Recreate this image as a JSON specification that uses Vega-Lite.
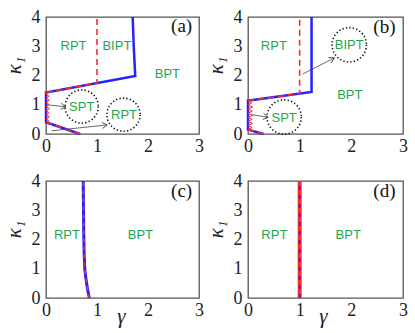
{
  "$schema": "https://vega.github.io/schema/vega-lite/v6.json",
  "padding": {"left": 2, "top": 7, "right": 2, "bottom": 2},
  "background": "white",
  "config": {
    "font": "Liberation Serif",
    "view": {"stroke": "#555", "strokeWidth": 1.3},
    "axis": {"grid": false, "domain": false, "ticks": false, "labelFont": "Liberation Serif", "labelFontSize": 18, "labelColor": "#222", "labelFlush": false, "titleFont": "Liberation Serif", "titleFontStyle": "italic", "titleFontWeight": "normal", "titleFontSize": 21, "titleColor": "#222"},
    "line": {"strokeCap": "butt"}
  },
  "datasets": {
    "lines": [
      {"p": "a", "s": "blue", "g": 0.67, "k": 0},
      {"p": "a", "s": "blue", "g": 0, "k": 0.4},
      {"p": "a", "s": "blue", "g": 0, "k": 1.42},
      {"p": "a", "s": "blue", "g": 1.75, "k": 1.98},
      {"p": "a", "s": "blue", "g": 1.72, "k": 3},
      {"p": "a", "s": "blue", "g": 1.7, "k": 4},
      {"p": "a", "s": "red1", "g": 0.67, "k": 0},
      {"p": "a", "s": "red1", "g": 0, "k": 0.4},
      {"p": "a", "s": "red2", "g": 0, "k": 1.42},
      {"p": "a", "s": "red2", "g": 1.0, "k": 1.74},
      {"p": "a", "s": "red2", "g": 1.0, "k": 4},
      {"p": "a", "s": "zig", "g": 0, "k": 0.4},
      {"p": "a", "s": "zig", "g": 0.06, "k": 0.45},
      {"p": "a", "s": "zig", "g": 0, "k": 0.52},
      {"p": "a", "s": "zig", "g": 0.07, "k": 0.59},
      {"p": "a", "s": "zig", "g": 0, "k": 0.66},
      {"p": "a", "s": "zig", "g": 0.06, "k": 0.73},
      {"p": "a", "s": "zig", "g": 0, "k": 0.8},
      {"p": "a", "s": "zig", "g": 0.07, "k": 0.87},
      {"p": "a", "s": "zig", "g": 0, "k": 0.94},
      {"p": "a", "s": "zig", "g": 0.06, "k": 1.01},
      {"p": "a", "s": "zig", "g": 0, "k": 1.08},
      {"p": "a", "s": "zig", "g": 0.07, "k": 1.15},
      {"p": "a", "s": "zig", "g": 0, "k": 1.22},
      {"p": "a", "s": "zig", "g": 0.06, "k": 1.29},
      {"p": "a", "s": "zig", "g": 0, "k": 1.36},
      {"p": "a", "s": "zig", "g": 0.03, "k": 1.4},
      {"p": "a", "s": "zig", "g": 0, "k": 1.42},
      {"p": "b", "s": "blue", "g": 0.3, "k": 0},
      {"p": "b", "s": "blue", "g": 0, "k": 0.15},
      {"p": "b", "s": "blue", "g": 0, "k": 1.14},
      {"p": "b", "s": "blue", "g": 1.23, "k": 1.44},
      {"p": "b", "s": "blue", "g": 1.23, "k": 4},
      {"p": "b", "s": "red1", "g": 0.3, "k": 0},
      {"p": "b", "s": "red1", "g": 0, "k": 0.15},
      {"p": "b", "s": "red2", "g": 0, "k": 1.14},
      {"p": "b", "s": "red2", "g": 1.0, "k": 1.385},
      {"p": "b", "s": "red2", "g": 1.0, "k": 4},
      {"p": "b", "s": "zig", "g": 0, "k": 0.15},
      {"p": "b", "s": "zig", "g": 0.08, "k": 0.22},
      {"p": "b", "s": "zig", "g": 0, "k": 0.29},
      {"p": "b", "s": "zig", "g": 0.09, "k": 0.36},
      {"p": "b", "s": "zig", "g": 0, "k": 0.43},
      {"p": "b", "s": "zig", "g": 0.08, "k": 0.5},
      {"p": "b", "s": "zig", "g": 0, "k": 0.57},
      {"p": "b", "s": "zig", "g": 0.09, "k": 0.64},
      {"p": "b", "s": "zig", "g": 0, "k": 0.71},
      {"p": "b", "s": "zig", "g": 0.08, "k": 0.78},
      {"p": "b", "s": "zig", "g": 0, "k": 0.85},
      {"p": "b", "s": "zig", "g": 0.09, "k": 0.92},
      {"p": "b", "s": "zig", "g": 0, "k": 0.99},
      {"p": "b", "s": "zig", "g": 0.07, "k": 1.06},
      {"p": "b", "s": "zig", "g": 0, "k": 1.14},
      {"p": "c", "s": "blue", "g": 0.85, "k": 0},
      {"p": "c", "s": "blue", "g": 0.815, "k": 0.3},
      {"p": "c", "s": "blue", "g": 0.785, "k": 0.63},
      {"p": "c", "s": "blue", "g": 0.76, "k": 1.0},
      {"p": "c", "s": "blue", "g": 0.748, "k": 1.5},
      {"p": "c", "s": "blue", "g": 0.74, "k": 2.2},
      {"p": "c", "s": "blue", "g": 0.735, "k": 3},
      {"p": "c", "s": "blue", "g": 0.73, "k": 4},
      {"p": "c", "s": "red1", "g": 0.85, "k": 0},
      {"p": "c", "s": "red1", "g": 0.815, "k": 0.3},
      {"p": "c", "s": "red1", "g": 0.785, "k": 0.63},
      {"p": "c", "s": "red1", "g": 0.76, "k": 1.0},
      {"p": "c", "s": "red1", "g": 0.748, "k": 1.5},
      {"p": "c", "s": "red1", "g": 0.74, "k": 2.2},
      {"p": "c", "s": "red1", "g": 0.735, "k": 3},
      {"p": "c", "s": "red1", "g": 0.73, "k": 4},
      {"p": "d", "s": "redsolid", "g": 1.0, "k": 0},
      {"p": "d", "s": "redsolid", "g": 1.0, "k": 4},
      {"p": "d", "s": "bluedash", "g": 1.0, "k": 0},
      {"p": "d", "s": "bluedash", "g": 1.0, "k": 4}
    ],
    "txt": [
      {"p": "a", "kind": "r", "t": "RPT", "g": 0.54, "k": 3.0},
      {"p": "a", "kind": "r", "t": "BIPT", "g": 1.39, "k": 3.0},
      {"p": "a", "kind": "r", "t": "BPT", "g": 2.38, "k": 2.06},
      {"p": "a", "kind": "r", "t": "SPT", "g": 0.7, "k": 0.92},
      {"p": "a", "kind": "r", "t": "RPT", "g": 1.53, "k": 0.64},
      {"p": "a", "kind": "p", "t": "(a)", "g": 2.66, "k": 3.68},
      {"p": "b", "kind": "r", "t": "RPT", "g": 0.5, "k": 3.0},
      {"p": "b", "kind": "r", "t": "BIPT", "g": 1.96, "k": 3.05},
      {"p": "b", "kind": "r", "t": "BPT", "g": 1.97, "k": 1.34},
      {"p": "b", "kind": "r", "t": "SPT", "g": 0.7, "k": 0.56},
      {"p": "b", "kind": "p", "t": "(b)", "g": 2.64, "k": 3.65},
      {"p": "c", "kind": "r", "t": "RPT", "g": 0.41, "k": 2.14},
      {"p": "c", "kind": "r", "t": "BPT", "g": 1.85, "k": 2.14},
      {"p": "c", "kind": "p", "t": "(c)", "g": 2.66, "k": 3.66},
      {"p": "d", "kind": "r", "t": "RPT", "g": 0.51, "k": 2.17},
      {"p": "d", "kind": "r", "t": "BPT", "g": 1.94, "k": 2.17},
      {"p": "d", "kind": "p", "t": "(d)", "g": 2.64, "k": 3.66}
    ],
    "circ": [
      {"p": "a", "g": 0.7, "k": 0.94},
      {"p": "a", "g": 1.52, "k": 0.66},
      {"p": "b", "g": 0.7, "k": 0.58},
      {"p": "b", "g": 1.96, "k": 3.05}
    ],
    "arr": [
      {"p": "a", "id": "a1", "end": "tail", "g": 0.01, "k": 1.0},
      {"p": "a", "id": "a1", "end": "head", "g": 0.39, "k": 0.93},
      {"p": "a", "id": "a2", "end": "tail", "g": 0.11, "k": 0.11},
      {"p": "a", "id": "a2", "end": "head", "g": 1.2, "k": 0.31},
      {"p": "b", "id": "b1", "end": "tail", "g": 1.06, "k": 2.05},
      {"p": "b", "id": "b1", "end": "head", "g": 1.67, "k": 2.6},
      {"p": "b", "id": "b2", "end": "tail", "g": 0.08, "k": 0.66},
      {"p": "b", "id": "b2", "end": "head", "g": 0.39, "k": 0.57}
    ]
  },
  "columns": 2,
  "spacing": {"row": 47, "column": 49},
  "bounds": "flush",
  "concat": [
    {
      "width": 153, "height": 117,
      "encoding": {
        "x": {"field": "g", "type": "quantitative", "scale": {"domain": [0, 3], "nice": false}, "axis": {"values": [0, 1, 2, 3], "title": null, "labelPadding": 3, "labelFont": "Liberation Serif"}},
        "y": {"field": "k", "type": "quantitative", "scale": {"domain": [0, 4], "nice": false}, "axis": {"values": [0, 1, 2, 3, 4], "title": "κ₁", "labelPadding": 6, "titlePadding": 7, "titleY": 48, "labelFont": "Liberation Serif"}}
      },
      "layer": [
        {"data": {"name": "lines"}, "transform": [{"filter": "datum.p==='a' && datum.s==='blue'"}], "mark": {"type": "line", "color": "#2323ff", "strokeWidth": 2.5}, "encoding": {"order": {"value": null}}},
        {"data": {"name": "lines"}, "transform": [{"filter": "datum.p==='a' && datum.s==='zig'"}], "mark": {"type": "line", "color": "#ff2a2a", "strokeWidth": 1}, "encoding": {"order": {"value": null}}},
        {"data": {"name": "lines"}, "transform": [{"filter": "datum.p==='a' && (datum.s==='red1' || datum.s==='red2')"}], "mark": {"type": "line", "color": "#ff2a2a", "strokeWidth": 1.6, "strokeDash": [6, 4]}, "encoding": {"detail": {"field": "s"}, "order": {"value": null}}},
        {"data": {"name": "circ"}, "transform": [{"filter": "datum.p==='a'"}], "mark": {"type": "point", "shape": "circle", "filled": false, "size": 1100, "color": "#111", "strokeWidth": 1.6, "strokeDash": [1.3, 2.2], "opacity": 1}},
        {"data": {"name": "arr"}, "transform": [{"filter": "datum.p==='a'"}], "mark": {"type": "line", "color": "#444", "strokeWidth": 0.8}, "encoding": {"detail": {"field": "id"}, "order": {"value": null}}},
        {"data": {"name": "arr"}, "transform": [{"filter": "datum.id==='a1' && datum.end==='head'"}], "mark": {"type": "point", "shape": "M-1,-0.6L0,0L-1,0.6", "filled": false, "size": 100, "angle": 6, "color": "#444", "strokeWidth": 0.9, "opacity": 1}},
        {"data": {"name": "arr"}, "transform": [{"filter": "datum.id==='a2' && datum.end==='head'"}], "mark": {"type": "point", "shape": "M-1,-0.6L0,0L-1,0.6", "filled": false, "size": 100, "angle": -6, "color": "#444", "strokeWidth": 0.9, "opacity": 1}},
        {"data": {"name": "txt"}, "transform": [{"filter": "datum.p==='a' && datum.kind==='r'"}], "mark": {"type": "text", "font": "Liberation Sans", "fontSize": 13, "color": "#1fa64f"}, "encoding": {"text": {"field": "t"}}},
        {"data": {"name": "txt"}, "transform": [{"filter": "datum.p==='a' && datum.kind==='p'"}], "mark": {"type": "text", "font": "Liberation Serif", "fontSize": 19, "color": "#111"}, "encoding": {"text": {"field": "t"}}}
      ]
    },
    {
      "width": 155, "height": 117,
      "encoding": {
        "x": {"field": "g", "type": "quantitative", "scale": {"domain": [0, 3], "nice": false}, "axis": {"values": [0, 1, 2, 3], "title": null, "labelPadding": 3, "labelFont": "Liberation Serif"}},
        "y": {"field": "k", "type": "quantitative", "scale": {"domain": [0, 4], "nice": false}, "axis": {"values": [0, 1, 2, 3, 4], "title": "κ₁", "labelPadding": 6, "titlePadding": 7, "titleY": 48, "labelFont": "Liberation Serif"}}
      },
      "layer": [
        {"data": {"name": "lines"}, "transform": [{"filter": "datum.p==='b' && datum.s==='blue'"}], "mark": {"type": "line", "color": "#2323ff", "strokeWidth": 2.5}, "encoding": {"order": {"value": null}}},
        {"data": {"name": "lines"}, "transform": [{"filter": "datum.p==='b' && datum.s==='zig'"}], "mark": {"type": "line", "color": "#ff2a2a", "strokeWidth": 1}, "encoding": {"order": {"value": null}}},
        {"data": {"name": "lines"}, "transform": [{"filter": "datum.p==='b' && (datum.s==='red1' || datum.s==='red2')"}], "mark": {"type": "line", "color": "#ff2a2a", "strokeWidth": 1.6, "strokeDash": [6, 4]}, "encoding": {"detail": {"field": "s"}, "order": {"value": null}}},
        {"data": {"name": "circ"}, "transform": [{"filter": "datum.p==='b'"}], "mark": {"type": "point", "shape": "circle", "filled": false, "size": 1180, "color": "#111", "strokeWidth": 1.6, "strokeDash": [1.3, 2.2], "opacity": 1}},
        {"data": {"name": "arr"}, "transform": [{"filter": "datum.p==='b'"}], "mark": {"type": "line", "color": "#444", "strokeWidth": 0.8}, "encoding": {"detail": {"field": "id"}, "order": {"value": null}}},
        {"data": {"name": "arr"}, "transform": [{"filter": "datum.id==='b1' && datum.end==='head'"}], "mark": {"type": "point", "shape": "M-1,-0.6L0,0L-1,0.6", "filled": false, "size": 100, "angle": -27, "color": "#444", "strokeWidth": 0.9, "opacity": 1}},
        {"data": {"name": "arr"}, "transform": [{"filter": "datum.id==='b2' && datum.end==='head'"}], "mark": {"type": "point", "shape": "M-1,-0.6L0,0L-1,0.6", "filled": false, "size": 100, "angle": 9.5, "color": "#444", "strokeWidth": 0.9, "opacity": 1}},
        {"data": {"name": "txt"}, "transform": [{"filter": "datum.p==='b' && datum.kind==='r'"}], "mark": {"type": "text", "font": "Liberation Sans", "fontSize": 13, "color": "#1fa64f"}, "encoding": {"text": {"field": "t"}}},
        {"data": {"name": "txt"}, "transform": [{"filter": "datum.p==='b' && datum.kind==='p'"}], "mark": {"type": "text", "font": "Liberation Serif", "fontSize": 19, "color": "#111"}, "encoding": {"text": {"field": "t"}}}
      ]
    },
    {
      "width": 153, "height": 117,
      "encoding": {
        "x": {"field": "g", "type": "quantitative", "scale": {"domain": [0, 3], "nice": false}, "axis": {"values": [0, 1, 2, 3], "title": "γ", "labelPadding": 3, "labelFont": "Liberation Serif", "titleX": 75, "titleY": 24, "titleBaseline": "alphabetic", "titleAlign": "center"}},
        "y": {"field": "k", "type": "quantitative", "scale": {"domain": [0, 4], "nice": false}, "axis": {"values": [0, 1, 2, 3, 4], "title": "κ₁", "labelPadding": 6, "titlePadding": 7, "titleY": 48, "labelFont": "Liberation Serif"}}
      },
      "layer": [
        {"data": {"name": "lines"}, "transform": [{"filter": "datum.p==='c' && datum.s==='blue'"}], "mark": {"type": "line", "color": "#2323ff", "strokeWidth": 3}, "encoding": {"order": {"value": null}}},
        {"data": {"name": "lines"}, "transform": [{"filter": "datum.p==='c' && datum.s==='red1'"}], "mark": {"type": "line", "color": "#ff2a2a", "strokeWidth": 1.6, "strokeDash": [4, 4]}, "encoding": {"order": {"value": null}}},
        {"data": {"name": "txt"}, "transform": [{"filter": "datum.p==='c' && datum.kind==='r'"}], "mark": {"type": "text", "font": "Liberation Sans", "fontSize": 13, "color": "#1fa64f"}, "encoding": {"text": {"field": "t"}}},
        {"data": {"name": "txt"}, "transform": [{"filter": "datum.p==='c' && datum.kind==='p'"}], "mark": {"type": "text", "font": "Liberation Serif", "fontSize": 19, "color": "#111"}, "encoding": {"text": {"field": "t"}}}
      ]
    },
    {
      "width": 155, "height": 117,
      "encoding": {
        "x": {"field": "g", "type": "quantitative", "scale": {"domain": [0, 3], "nice": false}, "axis": {"values": [0, 1, 2, 3], "title": "γ", "labelPadding": 3, "labelFont": "Liberation Serif", "titleX": 75, "titleY": 24, "titleBaseline": "alphabetic", "titleAlign": "center"}},
        "y": {"field": "k", "type": "quantitative", "scale": {"domain": [0, 4], "nice": false}, "axis": {"values": [0, 1, 2, 3, 4], "title": "κ₁", "labelPadding": 6, "titlePadding": 7, "titleY": 48, "labelFont": "Liberation Serif"}}
      },
      "layer": [
        {"data": {"name": "lines"}, "transform": [{"filter": "datum.p==='d' && datum.s==='redsolid'"}], "mark": {"type": "line", "color": "#ff2a2a", "strokeWidth": 4}, "encoding": {"order": {"value": null}}},
        {"data": {"name": "lines"}, "transform": [{"filter": "datum.p==='d' && datum.s==='bluedash'"}], "mark": {"type": "line", "color": "#2323ff", "strokeWidth": 1.6, "strokeDash": [4, 5]}, "encoding": {"order": {"value": null}}},
        {"data": {"name": "txt"}, "transform": [{"filter": "datum.p==='d' && datum.kind==='r'"}], "mark": {"type": "text", "font": "Liberation Sans", "fontSize": 13, "color": "#1fa64f"}, "encoding": {"text": {"field": "t"}}},
        {"data": {"name": "txt"}, "transform": [{"filter": "datum.p==='d' && datum.kind==='p'"}], "mark": {"type": "text", "font": "Liberation Serif", "fontSize": 19, "color": "#111"}, "encoding": {"text": {"field": "t"}}}
      ]
    }
  ]
}
